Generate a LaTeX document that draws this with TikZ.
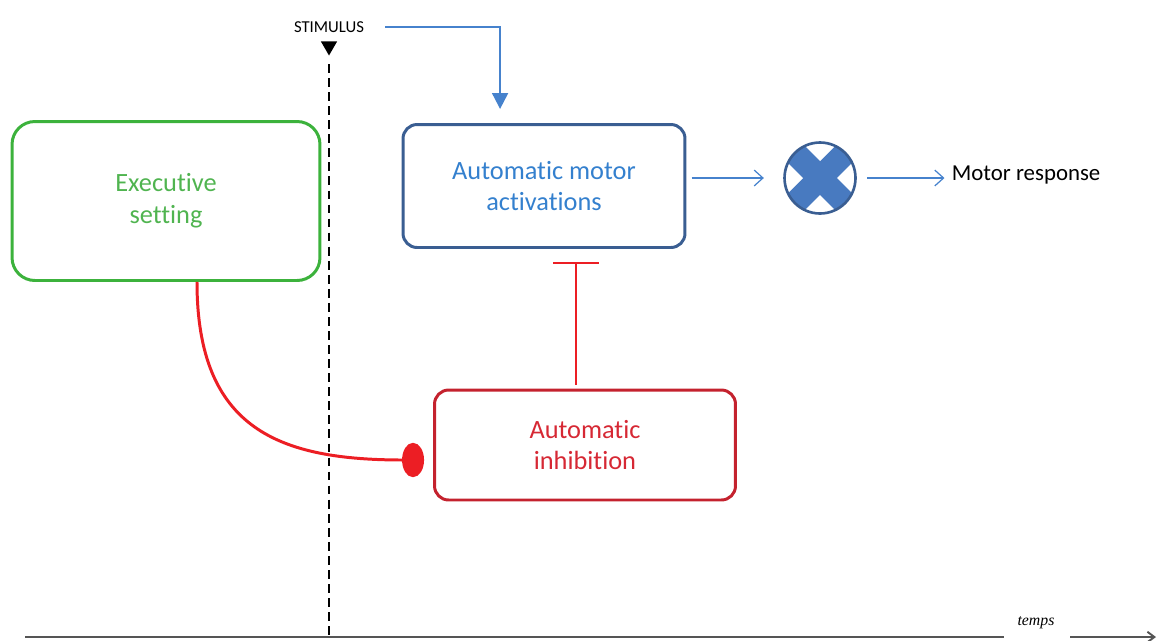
\documentclass[tikz,border=0pt]{standalone}
\usepackage{fontspec}
\setmainfont[Ligatures=NoCommon]{Carlito}
\newfontfamily\tempsfont{Liberation Serif}
\usetikzlibrary{arrows.meta,calc,shapes.geometric}
\definecolor{exgreen}{RGB}{60,178,60}
\definecolor{extext}{RGB}{80,180,80}
\definecolor{motline}{RGB}{58,94,146}
\definecolor{mottext}{RGB}{52,128,206}
\definecolor{inhline}{RGB}{196,34,46}
\definecolor{inhtext}{RGB}{214,40,52}
\definecolor{redlink}{RGB}{236,30,36}
\definecolor{flowblue}{RGB}{70,130,205}
\definecolor{crossfill}{RGB}{72,122,192}
\definecolor{axisgray}{RGB}{85,85,85}
\begin{document}
\begin{tikzpicture}[x=0.02cm, y=-0.02cm,
  every node/.style={align=center, font=\fontsize{15}{18}\selectfont},
  box/.style={draw, rounded corners=8pt, line width=1.7pt, inner sep=0pt},
  flow/.style={draw=flowblue, line width=0.7pt, -{Straight Barb[length=5pt,width=9pt]}}]
  \useasboundingbox (0,0) rectangle (1158,640);

  \node[box, draw=exgreen, text=extext, rounded corners=13pt, minimum width=6.16cm, minimum height=3.18cm] (exec) at (166,201) {Executive\\setting};
  \node[box, draw=motline, text=mottext, minimum width=5.64cm, minimum height=2.46cm] (motor) at (544,186) {Automatic motor\\activations};
  \node[box, draw=inhline, text=inhtext, minimum width=6.02cm, minimum height=2.2cm] (inhib) at (585,445) {Automatic\\inhibition};
  \node[circle, draw=motline, fill=white, line width=1.5pt, minimum size=1.42cm, inner sep=0pt,
        path picture={\draw[crossfill, line width=13.5pt]
          (path picture bounding box.north west) -- (path picture bounding box.south east)
          (path picture bounding box.north east) -- (path picture bounding box.south west);}] (cross) at (820,178) {};
  \node[anchor=west, inner sep=2pt, font=\fontsize{13}{15}\selectfont] (resp) at (948,175) {Motor response};

  \node[font=\fontsize{9.5}{12}\selectfont, inner sep=2pt] (stim) at (329,27) {STIMULUS};
  \node[regular polygon, regular polygon sides=3, shape border rotate=180, fill=black, inner sep=0pt, minimum size=0.38cm] (tri) at (329,46) {};
  \node[font=\tempsfont\itshape\fontsize{9}{11}\selectfont, inner sep=1pt] (temps) at (1036,623) {temps};
  \coordinate (ax0) at (25,637);
  \coordinate (ax1) at (1156,637);

  % time axis and stimulus onset
  \draw[axisgray, line width=1.1pt] (ax0) -- (1004,637);
  \draw[axisgray, line width=1.1pt, -{Straight Barb[length=4pt,width=6pt]}] (1070,637) -- (ax1);
  \draw[line width=1.3pt, dash pattern=on 5pt off 3pt] (tri.south |- 0,64) -- (tri.south |- ax0);

  \draw[flowblue, line width=1.2pt, shorten <=10pt, -{Triangle[length=9pt,width=9pt]}] (stim.east) -| ([xshift=-25pt,yshift=8pt]motor.north);
  \draw[flow, shorten <=3pt, shorten >=11pt] (motor.east |- cross) -- (cross.west);
  \draw[flow, shorten <=6pt, shorten >=2pt] (cross.east) -- (cross.east -| resp.west);

  \draw[redlink, line width=1.1pt, -{Bar[width=26pt]}] ($(inhib.north)+(-9,-4)$) -- ($(motor.south)+(32,13)$);
  \draw[redlink, line width=1.7pt, -{Ellipse[length=12.5pt,width=19.5pt]}] (exec.south -| 197,0) .. controls (197,430) and (280,460) .. ($(inhib.west)+(-9,15)$);
\end{tikzpicture}
\end{document}
